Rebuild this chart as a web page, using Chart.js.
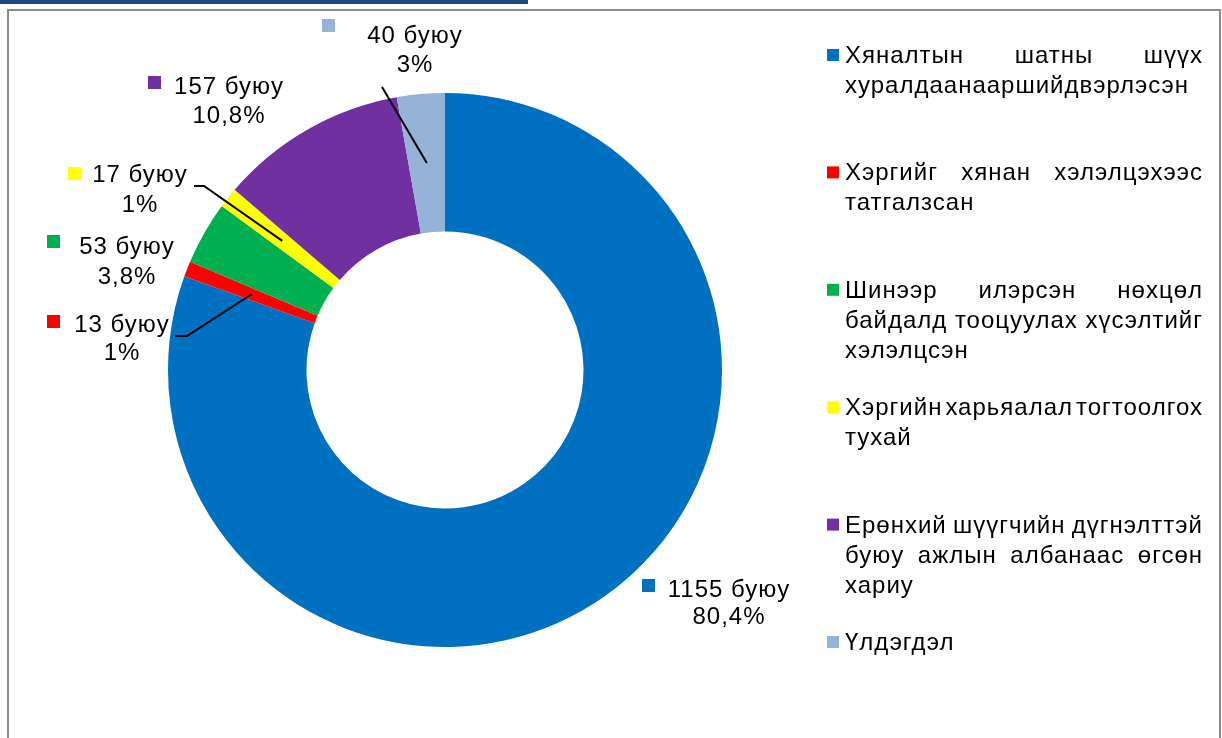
<!DOCTYPE html>
<html>
<head>
<meta charset="utf-8">
<script src="https://cdn.jsdelivr.net/npm/chart.js@4.4.0/dist/chart.umd.min.js"></script>
<style>
  html, body { margin: 0; padding: 0; background: #fff; }
  body { width: 1222px; height: 738px; position: relative; overflow: hidden; }
  #topbar { position: absolute; left: 0; top: 0; width: 528px; height: 4px; background: #1F497D; }
  #frame { position: absolute; left: 7px; top: 9px; width: 1214px; height: 760px; border: 2px solid #8c8c8c; box-sizing: border-box; }
  #wrap { position: absolute; left: 0; top: 0; width: 1222px; height: 738px; }
</style>
</head>
<body>
<div id="topbar"></div>
<div id="frame"></div>
<div id="wrap"><canvas id="chart" width="1222" height="738"></canvas></div>
<script>
// Дата
const categories = [
    ['Хяналтын шатны шүүх', 'хуралдаанааршийдвэрлэсэн'],
    ['Хэргийг хянан хэлэлцэхээс', 'татгалзсан'],
    ['Шинээр илэрсэн нөхцөл', 'байдалд тооцуулах хүсэлтийг', 'хэлэлцсэн'],
    ['Хэргийн харьяалал тогтоолгох', 'тухай'],
    ['Ерөнхий шүүгчийн дүгнэлттэй', 'буюу ажлын албанаас өгсөн', 'хариу'],
    ['Үлдэгдэл']
];
const values = [1155, 13, 53, 17, 157, 40];
const percentLabels = ['80,4%', '1%', '3,8%', '1%', '10,8%', '3%'];
const colors = ['#0070C0', '#FF0000', '#00B050', '#FFFF00', '#7030A0', '#95B3D7'];

// Шошгоны байрлал (key = өнгөт дөрвөлжин, b1/b2 = мөрийн baseline)
const labelLayout = [
    { key: [642, 579], x: 729, b1: 597, b2: 624 },
    { key: [47, 315], x: 122, b1: 332, b2: 360, leader: [[175, 336], [187, 336]] },
    { key: [47, 235], x: 127, b1: 254, b2: 284 },
    { key: [68, 167], x: 140, b1: 182, b2: 212, leader: [[194, 186], [204, 186]] },
    { key: [148, 76], x: 229, b1: 94, b2: 123 },
    { key: [322, 19], x: 415, b1: 43, b2: 72, leader: [[382, 87]] }
];

const FONT = '24px "Liberation Sans", Arial, sans-serif';

function drawSpaced(ctx, text, x, y) {
    ctx.letterSpacing = '1px';
    ctx.fillText(text, x, y);
}

const dataLabels = {
    id: 'dataLabels',
    afterDatasetsDraw(chart) {
        const ctx = chart.ctx;
        const meta = chart.getDatasetMeta(0);
        ctx.save();
        ctx.font = FONT;
        ctx.fillStyle = '#000';
        ctx.textBaseline = 'alphabetic';
        ctx.textAlign = 'center';
        ctx.letterSpacing = '1px';
        meta.data.forEach(function(arc, i) {
            const p = arc.getProps(['x', 'y', 'startAngle', 'endAngle', 'innerRadius', 'outerRadius'], true);
            const mid = (p.startAngle + p.endAngle) / 2;
            const r = (p.innerRadius + p.outerRadius) / 2;
            const px = p.x + Math.cos(mid) * r;
            const py = p.y + Math.sin(mid) * r;
            const lay = labelLayout[i];

            if (lay.leader) {
                ctx.beginPath();
                ctx.strokeStyle = '#000';
                ctx.lineWidth = 2;
                ctx.moveTo(lay.leader[0][0], lay.leader[0][1]);
                for (let k = 1; k < lay.leader.length; k++) ctx.lineTo(lay.leader[k][0], lay.leader[k][1]);
                ctx.lineTo(px, py);
                ctx.stroke();
            }

            ctx.fillStyle = colors[i];
            ctx.fillRect(lay.key[0], lay.key[1], 13, 13);
            ctx.fillStyle = '#000';
            ctx.fillText(values[i] + ' буюу', lay.x, lay.b1);
            ctx.fillText(percentLabels[i], lay.x, lay.b2);
        });
        ctx.restore();
    }
};

// Баруун талын тайлбар (legend), мөрүүдийг хоёр талд тэгшилнэ
const sideLegend = {
    id: 'sideLegend',
    afterDraw(chart) {
        const ctx = chart.ctx;
        const left = 845, right = 1203;
        ctx.save();
        ctx.font = FONT;
        ctx.textBaseline = 'alphabetic';
        ctx.textAlign = 'left';
        ctx.letterSpacing = '1px';
        categories.forEach(function(lines, i) {
            const base = 63 + i * 117.4;
            ctx.fillStyle = colors[i];
            ctx.fillRect(827, base - 14, 12, 12);
            ctx.fillStyle = '#000';
            lines.forEach(function(line, j) {
                const y = base + j * 30;
                const words = line.split(' ');
                const last = j === lines.length - 1;
                if (last || words.length < 2) {
                    ctx.fillText(line, left, y);
                    return;
                }
                const widths = words.map(w => ctx.measureText(w).width);
                const total = widths.reduce((a, b) => a + b, 0);
                const gap = (right - left - total) / (words.length - 1);
                let x = left;
                words.forEach(function(w, k) {
                    ctx.fillText(w, x, y);
                    x += widths[k] + gap;
                });
            });
        });
        ctx.restore();
    }
};

const chart = new Chart(document.getElementById('chart'), {
    type: 'doughnut',
    data: {
        labels: categories,
        datasets: [{
            data: values,
            backgroundColor: colors,
            borderWidth: 0
        }]
    },
    options: {
        responsive: false,
        animation: false,
        cutout: '50%',
        layout: {
            padding: { left: 168, right: 500, top: 93, bottom: 91 }
        },
        plugins: {
            legend: { display: false },
            tooltip: { enabled: false }
        }
    },
    plugins: [dataLabels, sideLegend]
});
</script>
</body>
</html>
